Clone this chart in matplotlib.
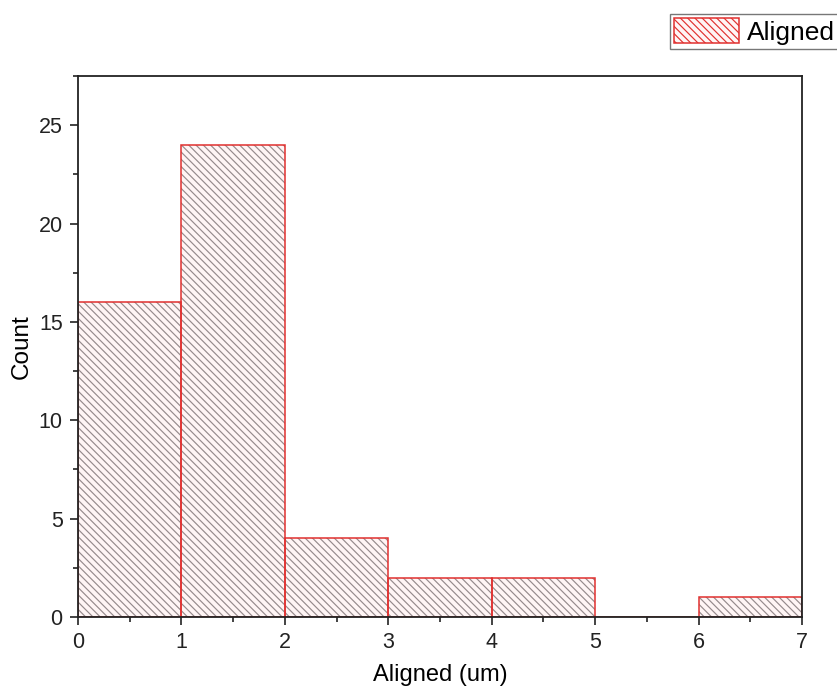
import numpy as np
import matplotlib
matplotlib.use("Agg")
import matplotlib.pyplot as plt
from matplotlib.patches import Patch
from matplotlib.ticker import MultipleLocator

# histogram data (bin edges in um, counts)
bin_edges = [0, 1, 2, 3, 4, 5, 6, 7]
counts = [16, 24, 4, 2, 2, 0, 1]
series_label = "Aligned"

DPI = 131            # with 6 backslashes this gives ~7 px hatch spacing
S = 100 / DPI        # sizes below are given as if at 100 dpi
HATCH = '\\' * 6

plt.rcParams['font.family'] = ['Liberation Sans', 'DejaVu Sans']
plt.rcParams['hatch.linewidth'] = 0.85 * S

W, H = 837, 690
fig = plt.figure(figsize=(W / DPI, H / DPI), dpi=DPI)
ax = fig.add_axes([78 / W, 1 - 617 / H, (802 - 78) / W, (617 - 76) / H])

red = '#e0302f'
hatch_grey = '#958a8c'
fill = '#fff5f5'
lefts = np.array(bin_edges[:-1])
widths = np.diff(bin_edges)
# hatch layer in grey, outline layer in red
ax.bar(lefts, counts, width=widths, align='edge', facecolor=fill,
       edgecolor=hatch_grey, hatch=HATCH, linewidth=0, zorder=2)
ax.bar(lefts, counts, width=widths, align='edge', facecolor='none',
       edgecolor=red, linewidth=1.1 * S, zorder=3)

ax.set_xlim(0, 7)
ax.set_ylim(0, 27.5)
ax.xaxis.set_major_locator(MultipleLocator(1))
ax.xaxis.set_minor_locator(MultipleLocator(0.5))
ax.yaxis.set_major_locator(MultipleLocator(5))
ax.yaxis.set_minor_locator(MultipleLocator(2.5))
ax.tick_params(which='both', direction='out', top=False, right=False,
               labelsize=15.5 * S, width=1.2 * S, colors='#222222')
ax.tick_params(which='major', length=6 * S, pad=5 * S)
ax.tick_params(which='minor', length=3.5 * S)
for s in ax.spines.values():
    s.set_linewidth(1.3 * S)
    s.set_color('#222222')
    s.set_zorder(4)

ax.set_xlabel("Aligned (um)", fontsize=17 * S, labelpad=8 * S)
ax.set_ylabel("Count", fontsize=17.5 * S, labelpad=4 * S)

h = Patch(facecolor=fill, edgecolor=red, hatch=HATCH, linewidth=1.1 * S)
leg = fig.legend([h], [series_label], loc='upper left',
                 bbox_to_anchor=(670 / W, 1 - 14 / H), fontsize=19 * S,
                 frameon=True, fancybox=False, edgecolor='#555555',
                 handlelength=2.45, handleheight=1.1, borderpad=0.15,
                 handletextpad=0.3, borderaxespad=0)
leg.get_frame().set_linewidth(1.0 * S)

fig.savefig("out.png", dpi=DPI)
